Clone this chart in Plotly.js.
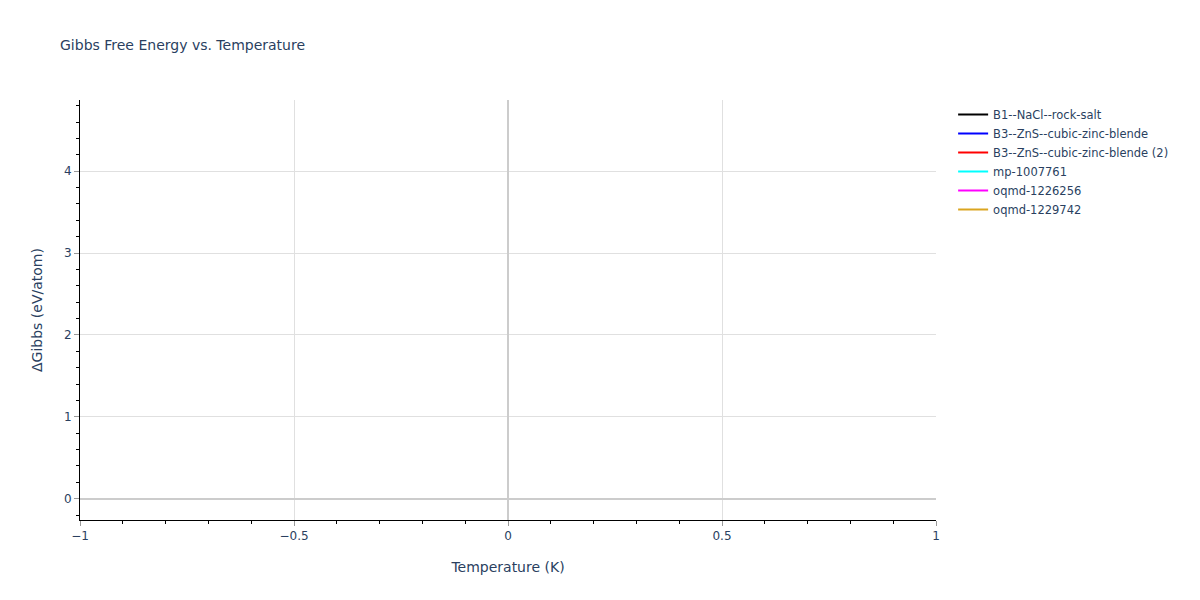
<!DOCTYPE html>
<html>
<head>
<meta charset="utf-8">
<script src="https://cdn.plot.ly/plotly-3.0.1.min.js"></script>
<style>
  body { margin: 0; }
  #gibbs-plot { width: 1200px; height: 600px; }
</style>
</head>
<body>
<div id="gibbs-plot"></div>
<script>
// Phase names and line colours, as shown in the legend
var phaseNames = [
    'B1--NaCl--rock-salt',
    'B3--ZnS--cubic-zinc-blende',
    'B3--ZnS--cubic-zinc-blende (2)',
    'mp-1007761',
    'oqmd-1226256',
    'oqmd-1229742'
];
var phaseColors = ['black', 'blue', 'red', 'cyan', 'magenta', 'goldenrod'];

// No visible points in the chart: one empty slot per trace so the legend is kept
var temperature = [null];
var deltaGibbs = [null];

// Axis ranges
var tempRange = [-1, 1];
var gibbsRange = [-0.26, 4.87];

function init_gibbs_plot( ){
    var data = [];
    for (var i = 0; i < phaseNames.length; i++) {
        data.push({
            x: temperature,
            y: deltaGibbs,
            type: 'scatter',
            mode: 'lines',
            name: phaseNames[i],
            line: { color: phaseColors[i] }
        });
    }

    var layout = {
        width: 1200,
        height: 600,
        showlegend: true,               // Show the line legend
        font: { family: 'DejaVu Sans, Verdana, sans-serif', size: 12, color: '#2a3f5f' },
        paper_bgcolor: 'white',
        plot_bgcolor: 'white',
        margin: { l: 80, r: 264, t: 100, b: 80 },
        legend: { font: { size: 11.5 } },
        title: {
            text: 'Gibbs Free Energy vs. Temperature',
            font: { size: 14 },
            x: 0.05,
            xanchor: 'left'
        },
        xaxis: {
            range: tempRange,
            dtick: 0.5,
            showline: true,
            linecolor: 'black',
            ticks: 'outside',
            tickcolor: '#999',
            gridcolor: '#e0e0e0',
            zeroline: true,
            zerolinecolor: '#cccccc',
            zerolinewidth: 2,
            minor: { dtick: 0.1, ticks: 'outside', tickcolor: 'black' },
            title: { text: 'Temperature (K)', font: { size: 14 } }
        },
        yaxis: {
            range: gibbsRange,
            dtick: 1,
            showline: true,
            linecolor: 'black',
            ticks: 'outside',
            tickcolor: '#999',
            gridcolor: '#e0e0e0',
            zeroline: true,
            zerolinecolor: '#cccccc',
            zerolinewidth: 2,
            minor: { dtick: 0.2, ticks: 'outside', tickcolor: 'black' },
            title: { text: 'ΔGibbs (eV/atom)', font: { size: 14 } }
        }
    };

    var additional_param = {
        displayModeBar: false,
        displaylogo: false              // Remove plotly button
    };

    Plotly.newPlot('gibbs-plot', data, layout, additional_param);
};

init_gibbs_plot();
</script>
</body>
</html>
